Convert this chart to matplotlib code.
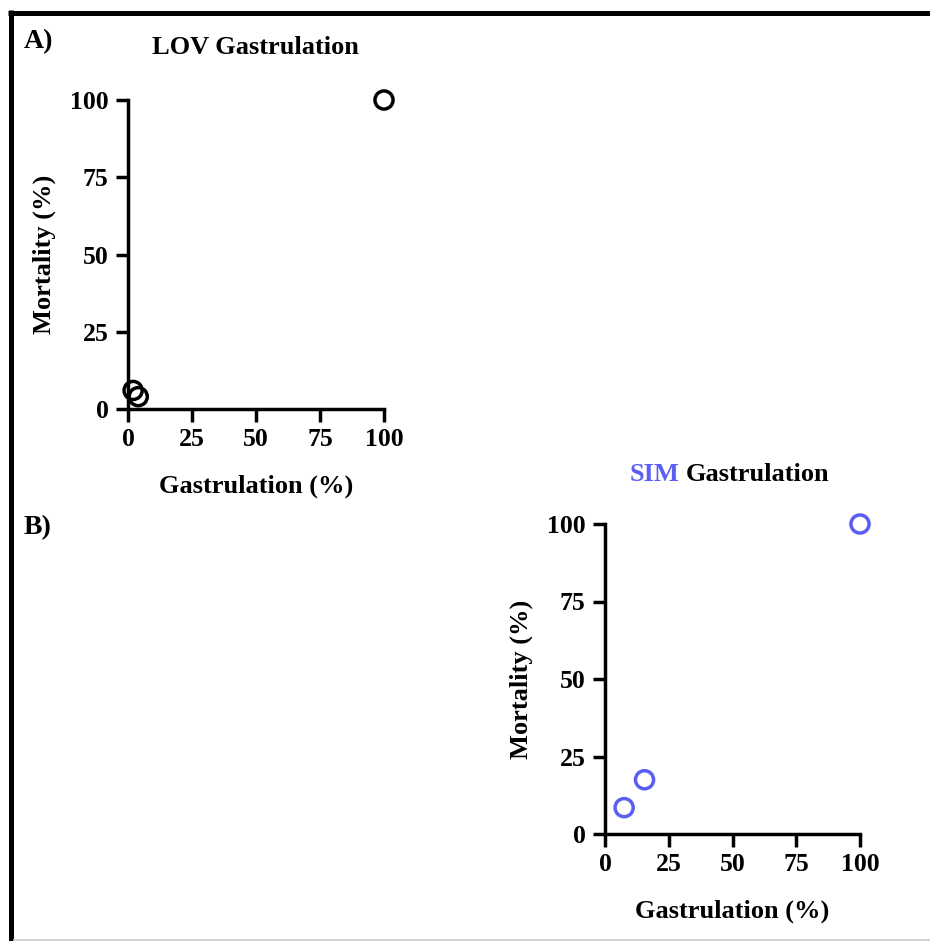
import matplotlib.pyplot as plt
from matplotlib.lines import Line2D

plt.rcParams['font.family'] = ['Liberation Serif', 'DejaVu Serif']
plt.rcParams['font.weight'] = 'bold'

# data
lov_gastrulation = [100, 2, 4]
lov_mortality = [100, 6, 4]
sim_gastrulation = [100, 7.5, 15.5]
sim_mortality = [100, 8.5, 17.5]
ticks = [0, 25, 50, 75, 100]

blue = '#5b5ef0'

fig = plt.figure(figsize=(9.3, 9.41), dpi=100)
W, H = 930, 941


def px(x, y):
    return x / W, 1 - y / H


def style(ax):
    ax.set_xlim(0, 100)
    ax.set_ylim(0, 100)
    ax.set_xticks(ticks)
    ax.set_yticks(ticks)
    for s in ['top', 'right']:
        ax.spines[s].set_visible(False)
    for s in ['left', 'bottom']:
        ax.spines[s].set_linewidth(2.5)
    ax.tick_params(length=9, width=2.5, labelsize=18.5, pad=5)
    for lab in ax.get_xticklabels() + ax.get_yticklabels():
        lab.set_fontweight('bold')
    ax.set_xlabel('Gastrulation (%)', fontsize=19, fontweight='bold', labelpad=17)
    ax.set_ylabel('Mortality (%)', fontsize=19, fontweight='bold', labelpad=10)


# panel A
ax1 = fig.add_axes([128 / W, 1 - 409 / H, 256 / W, 309 / H])
ax1.scatter(lov_gastrulation, lov_mortality, s=170, facecolors='none',
            edgecolors='black', linewidths=2.5, clip_on=False, zorder=3)
style(ax1)
fig.text(*px(255, 48), 'LOV Gastrulation', ha='center', va='center',
         fontsize=19, fontweight='bold')
fig.text(*px(24, 42), 'A)', ha='left', va='center', fontsize=20, fontweight='bold')

# panel B
ax2 = fig.add_axes([605 / W, 1 - 834 / H, 255 / W, 310 / H])
ax2.scatter(sim_gastrulation, sim_mortality, s=170, facecolors='none',
            edgecolors=blue, linewidths=2.5, clip_on=False, zorder=3)
style(ax2)
fig.text(*px(679, 474), 'SIM', ha='right', va='center', color=blue,
         fontsize=19, fontweight='bold')
fig.text(*px(686, 474), 'Gastrulation', ha='left', va='center',
         fontsize=19, fontweight='bold')
fig.text(*px(24, 528), 'B)', ha='left', va='center', fontsize=20, fontweight='bold')

# frame lines
fig.add_artist(Line2D([8 / W, 1], [1 - 12.5 / H] * 2, color='black', lw=3.6,
                      solid_capstyle='butt'))
fig.add_artist(Line2D([10.5 / W] * 2, [0, 1 - 10 / H], color='black', lw=3.6,
                      solid_capstyle='butt'))
fig.add_artist(Line2D([13 / W, 1], [1 - 939.5 / H] * 2, color='#cccccc', lw=1.2,
                      solid_capstyle='butt'))

fig.savefig('out.png', dpi=100)
